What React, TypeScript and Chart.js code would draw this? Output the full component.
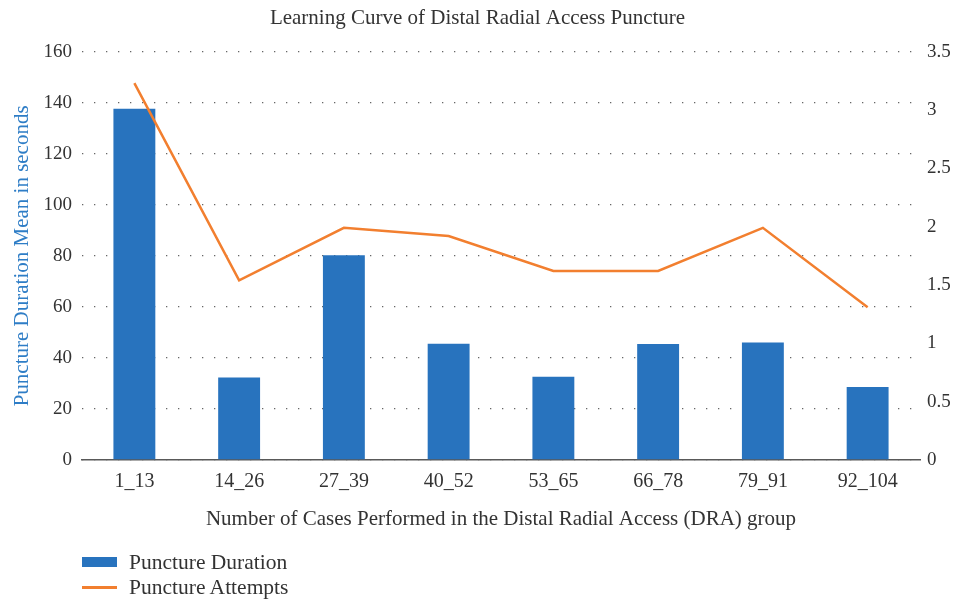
import React, { useEffect, useRef } from "react";
import { Chart, registerables } from "chart.js";

Chart.register(...registerables);

const categories = ["1_13", "14_26", "27_39", "40_52", "53_65", "66_78", "79_91", "92_104"];
const durationValues = [137.6, 32.3, 80.2, 45.6, 32.6, 45.5, 46.0, 28.6];
const attemptValues = [3.23, 1.54, 1.99, 1.92, 1.62, 1.62, 1.99, 1.31];
const leftTicks = [0, 20, 40, 60, 80, 100, 120, 140, 160];
const rightTicks = [0, 0.5, 1, 1.5, 2, 2.5, 3, 3.5];

const FONT = "'Liberation Serif', 'Times New Roman', serif";
const TEXT = "#333333";
const BLUE = "#2873BE";
const ORANGE = "#F27F2F";

export default function App() {
  const ref = useRef<HTMLCanvasElement | null>(null);

  useEffect(() => {
    if (!ref.current) return;
    const chart = new Chart(ref.current, {
      type: "bar",
      data: {
        labels: categories,
        datasets: [
          {
            type: "line",
            label: "Puncture Attempts",
            data: attemptValues,
            yAxisID: "y1",
            borderColor: ORANGE,
            backgroundColor: ORANGE,
            borderWidth: 2.5,
            pointRadius: 0,
            tension: 0,
            order: 0,
          },
          {
            type: "bar",
            label: "Puncture Duration",
            data: durationValues,
            yAxisID: "y",
            backgroundColor: BLUE,
            barPercentage: 0.4,
            categoryPercentage: 1,
            order: 1,
          },
        ],
      },
      options: {
        animation: false,
        responsive: false,
        maintainAspectRatio: false,
        layout: { padding: { left: 0, right: 0, top: 0, bottom: 67 } },
        plugins: {
          legend: { display: false },
          tooltip: { enabled: false },
          title: {
            display: true,
            text: "Learning Curve of Distal Radial Access Puncture",
            color: TEXT,
            font: { family: FONT, size: 21, weight: "normal" },
            padding: { top: 6, bottom: 20.5 },
          },
        },
        scales: {
          x: {
            grid: { display: false, drawTicks: false },
            border: { display: true, color: "#595959", width: 1.5 },
            ticks: { color: TEXT, font: { family: FONT, size: 20 }, padding: 10 },
            title: {
              display: true,
              text: "Number of Cases Performed in the Distal Radial Access (DRA) group",
              color: TEXT,
              font: { family: FONT, size: 21 },
              padding: { top: 12, bottom: 0 },
            },
            afterFit: (s: any) => {
              s.height = 72;
            },
          },
          y: {
            position: "left",
            min: 0,
            max: 160,
            afterBuildTicks: (s: any) => {
              s.ticks = leftTicks.map((v) => ({ value: v }));
            },
            grid: {
              color: "#666666",
              lineWidth: 1.3,
              drawTicks: false,
            },
            border: { display: false, dash: [1.3, 10.7] },
            ticks: { color: TEXT, font: { family: FONT, size: 19 }, padding: 10 },
            title: {
              display: true,
              text: "Puncture Duration Mean in seconds",
              color: "#2E7DC6",
              font: { family: FONT, size: 21 },
              padding: { top: 10, bottom: 0 },
            },
            afterFit: (s: any) => {
              s.width = 82;
            },
          },
          y1: {
            position: "right",
            min: 0,
            max: 3.5,
            afterBuildTicks: (s: any) => {
              s.ticks = rightTicks.map((v) => ({ value: v }));
            },
            grid: { drawOnChartArea: false, drawTicks: false },
            border: { display: false },
            ticks: {
              color: TEXT,
              font: { family: FONT, size: 19 },
              padding: 7,
              callback: (v: any) => String(Number(v)),
            },
            afterFit: (s: any) => {
              s.width = 35;
            },
          },
        },
      },
    } as any);
    return () => chart.destroy();
  }, []);

  const legendText: React.CSSProperties = {
    position: "absolute",
    left: 129,
    fontFamily: FONT,
    fontSize: 21.5,
    color: TEXT,
    lineHeight: "22px",
    whiteSpace: "nowrap",
  };

  return (
    <div style={{ position: "fixed", left: 0, top: 0, width: 955, height: 599, background: "#fff" }}>
      <canvas ref={ref} width={955} height={599} style={{ display: "block" }} />
      <div style={{ position: "absolute", left: 82, top: 557, width: 35, height: 10, background: BLUE }} />
      <div style={{ ...legendText, top: 551 }}>Puncture Duration</div>
      <div style={{ position: "absolute", left: 82, top: 586, width: 35, height: 2.5, background: ORANGE }} />
      <div style={{ ...legendText, top: 576 }}>Puncture Attempts</div>
    </div>
  );
}
